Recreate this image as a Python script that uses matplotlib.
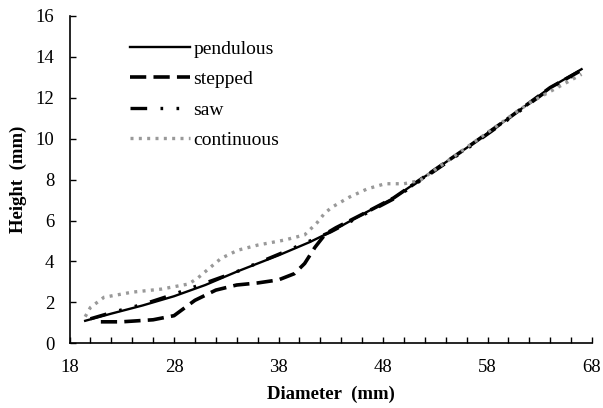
import matplotlib
matplotlib.use("Agg")
import matplotlib.pyplot as plt
from matplotlib.ticker import FixedLocator, FuncFormatter

plt.rcParams['font.family'] = ['Liberation Serif', 'DejaVu Serif']

pend_d = [19.5, 22, 25, 28, 31, 34, 38, 41, 43, 46, 49, 52, 56, 60, 64, 67]
pend_h = [1.1, 1.45, 1.85, 2.3, 2.85, 3.5, 4.3, 4.95, 5.45, 6.3, 7.1, 8.15, 9.55, 11.0, 12.5, 13.4]

step_d = [21, 23, 26, 28, 30, 32, 34, 36, 38, 39.5, 40.5, 41.5, 42.5, 43.5, 46, 49, 52, 56, 60, 64, 67]
step_h = [1.05, 1.05, 1.15, 1.35, 2.1, 2.6, 2.85, 2.95, 3.1, 3.4, 3.9, 4.7, 5.35, 5.65, 6.3, 7.1, 8.15, 9.55, 11.0, 12.5, 13.35]

saw_d = [20, 22, 25, 28, 31, 34, 38, 41, 43, 46, 49, 52, 56, 60, 64, 67]
saw_h = [1.2, 1.5, 1.9, 2.4, 2.95, 3.5, 4.35, 5.0, 5.45, 6.25, 7.05, 8.1, 9.5, 10.95, 12.45, 13.3]

cont_d = [19.5, 20, 21.3, 24, 26.8, 29.4, 30.3, 31.1, 32.5, 34.1, 36, 38.6, 40.5, 41.7, 42.4, 43.1, 44.8, 46.5, 48.2, 50, 51.5, 54, 58, 62, 67]
cont_h = [1.3, 1.75, 2.25, 2.5, 2.65, 2.9, 3.2, 3.55, 4.15, 4.55, 4.8, 5.05, 5.3, 5.9, 6.35, 6.65, 7.15, 7.55, 7.8, 7.8, 7.95, 8.85, 10.3, 11.75, 13.15]

x_labels = [18, 28, 38, 48, 58, 68]

fig = plt.figure(figsize=(6.03, 4.08), dpi=100)
ax = fig.add_axes([69.5/603, (408-343.3)/408, 522.5/603, 327.3/408])

ax.plot(pend_d, pend_h, color='black', lw=1.7, label='pendulous')
ax.plot(step_d, step_h, color='black', lw=2.6, dashes=(4.5, 2), label='stepped')
ax.plot(saw_d, saw_h, color='black', lw=2.4, dashes=(5, 4, 0.8, 4, 0.8, 4), label='saw')
ax.plot(cont_d, cont_h, color='#999999', lw=2.4, dashes=(0.9, 1.6), label='continuous')

ax.set_xlim(18, 68)
ax.set_ylim(0, 16)
ax.xaxis.set_major_locator(FixedLocator(list(range(18, 69, 2))))
ax.xaxis.set_major_formatter(FuncFormatter(lambda v, p: str(int(round(v))) if int(round(v)) in x_labels else ''))
ax.set_yticks(range(0, 17, 2))
ax.tick_params(direction='in', length=4, width=1, labelsize=13.5, colors='black')
ax.tick_params(axis='x', pad=11)
ax.tick_params(axis='y', pad=11)
for s in ['top', 'right']:
    ax.spines[s].set_visible(False)
for s in ['left', 'bottom']:
    ax.spines[s].set_linewidth(1.2)

ax.set_xlabel('Diameter  (mm)', fontsize=13.5, fontweight='bold', labelpad=7)
ax.set_ylabel('Height  (mm)', fontsize=13.5, fontweight='bold', labelpad=6)

ax.legend(loc='upper left', bbox_to_anchor=(0.116, 0.926), frameon=False, fontsize=14,
          handlelength=3.1, handletextpad=0.15, labelspacing=0.66, borderpad=0, borderaxespad=0)

fig.savefig('out.png', dpi=100)
